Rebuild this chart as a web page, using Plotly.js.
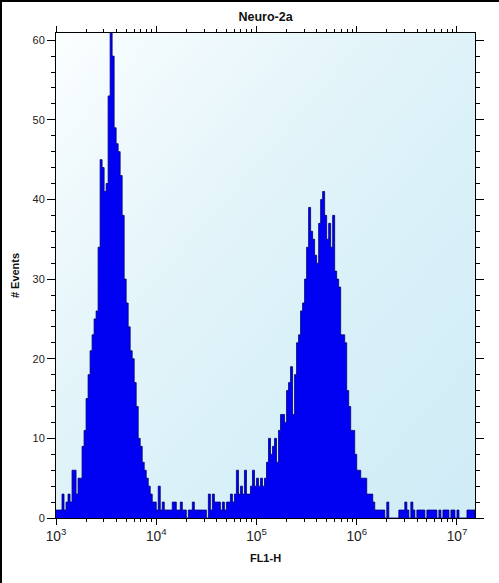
<!DOCTYPE html>
<html>
<head>
<meta charset="utf-8">
<script src="https://cdn.plot.ly/plotly-3.0.1.min.js"></script>
<style>
  html, body { margin: 0; padding: 0; background: #ffffff; }
  #wrap { position: relative; width: 499px; height: 583px; overflow: hidden; box-sizing: border-box; border-top: 2px solid #000; border-left: 2px solid #000; }
  #bg { position: absolute; background: linear-gradient(to bottom right, #fbfeff 0%, #e5f5fa 35%, #d8f0f8 65%, #d0ecf6 100%); }
  #plot { position: absolute; left: -2px; top: -2px; width: 499px; height: 583px; }
</style>
</head>
<body>
<div id="wrap">
  <div id="bg"></div>
  <div id="plot"></div>
</div>
<script>
// Histogram channels: first channel at 10^3, each channel 0.02 decade wide
const chartTitle = "Neuro-2a";
const xAxisTitle = "FL1-H";
const yAxisTitle = "# Events";
const firstDecade = 3;
const channelWidth = 0.02;
const counts = [
  1, 1, 1, 3, 1, 2, 3, 2, 6, 6,
  3, 5, 5, 9, 11, 15, 18, 21, 23, 25,
  26, 34, 45, 44, 41, 42, 53, 61, 58, 49,
  47, 46, 43, 38, 30, 27, 24, 21, 20, 17,
  14, 10, 9, 7, 6, 5, 4, 3, 2, 2,
  1, 4, 1, 2, 1, 1, 1, 1, 2, 2,
  1, 1, 2, 1, 1, 0, 1, 1, 2, 1,
  1, 1, 1, 1, 1, 0, 3, 1, 3, 2,
  2, 2, 1, 2, 1, 2, 2, 3, 2, 3,
  6, 3, 4, 3, 6, 3, 3, 4, 6, 4,
  5, 4, 5, 4, 5, 7, 10, 8, 9, 10,
  7, 11, 13, 13, 12, 16, 17, 19, 13, 18,
  22, 23, 26, 27, 30, 34, 39, 36, 35, 33,
  32, 37, 40, 41, 38, 35, 37, 34, 38, 31,
  30, 29, 23, 23, 22, 16, 14, 11, 11, 8,
  6, 6, 5, 5, 5, 3, 3, 3, 2, 1,
  1, 1, 1, 1, 0, 2, 0, 0, 0, 0,
  0, 1, 1, 1, 2, 1, 0, 2, 1, 0,
  1, 1, 1, 1, 0, 1, 1, 1, 1, 1,
  0, 1, 0, 1, 1, 1, 0, 1, 1, 0,
  1, 0, 0, 0, 0, 1, 1, 1, 1, 0
];

const xs = [], ys = [];
for (let i = 0; i < counts.length; i++) {
  xs.push(Math.pow(10, firstDecade + i * channelWidth));
  ys.push(counts[i]);
}
xs.push(Math.pow(10, firstDecade + counts.length * channelWidth));
ys.push(counts[counts.length - 1]);

const fontFam = "Liberation Sans, Arial, sans-serif";

const trace = {
  type: "scatter",
  mode: "lines",
  x: xs,
  y: ys,
  line: { shape: "hv", color: "#00007a", width: 0.8 },
  fill: "tozeroy",
  fillcolor: "#0000f2",
  hoverinfo: "x+y"
};

const layout = {
  width: 499,
  height: 583,
  margin: { l: 56, r: 24, t: 33, b: 65 },
  paper_bgcolor: "rgba(0,0,0,0)",
  plot_bgcolor: "rgba(0,0,0,0)",
  showlegend: false,
  title: {
    text: "<b>" + chartTitle + "</b>",
    x: 0.5, xref: "paper", xanchor: "center",
    y: 1 - 17 / 583, yref: "container", yanchor: "middle",
    font: { family: fontFam, size: 12.5, color: "#111" }
  },
  xaxis: {
    type: "log",
    range: [3, 7.18],
    dtick: 1,
    exponentformat: "power",
    showgrid: false,
    zeroline: false,
    showline: true, linecolor: "#000", linewidth: 1,
    mirror: "ticks",
    ticks: "outside", ticklen: 6, tickcolor: "#000", tickwidth: 1,
    minor: { ticks: "outside", ticklen: 3, tickcolor: "#000", dtick: "D1", showgrid: false },
    tickfont: { family: fontFam, size: 11, color: "#222" },
    title: { text: "<b>" + xAxisTitle + "</b>", font: { family: fontFam, size: 11, color: "#111" }, standoff: 11 }
  },
  yaxis: {
    range: [0, 60.9],
    dtick: 10,
    showgrid: false,
    zeroline: false,
    showline: true, linecolor: "#000", linewidth: 1,
    mirror: "ticks",
    ticks: "outside", ticklen: 8, tickcolor: "#000", tickwidth: 1,
    minor: { ticks: "outside", ticklen: 4, tickcolor: "#000", dtick: 2, showgrid: false },
    tickfont: { family: fontFam, size: 11, color: "#222" },
    title: { text: "<b>" + yAxisTitle + "</b>", font: { family: fontFam, size: 11, color: "#111" }, standoff: 10 }
  }
};

const gd = document.getElementById("plot");
Plotly.newPlot(gd, [trace], layout, { staticPlot: true, displayModeBar: false }).then(function () {
  const s = gd._fullLayout._size;
  const bg = document.getElementById("bg");
  bg.style.left = (s.l - 2) + "px";
  bg.style.top = (s.t - 2) + "px";
  bg.style.width = s.w + "px";
  bg.style.height = s.h + "px";
});
</script>
</body>
</html>
